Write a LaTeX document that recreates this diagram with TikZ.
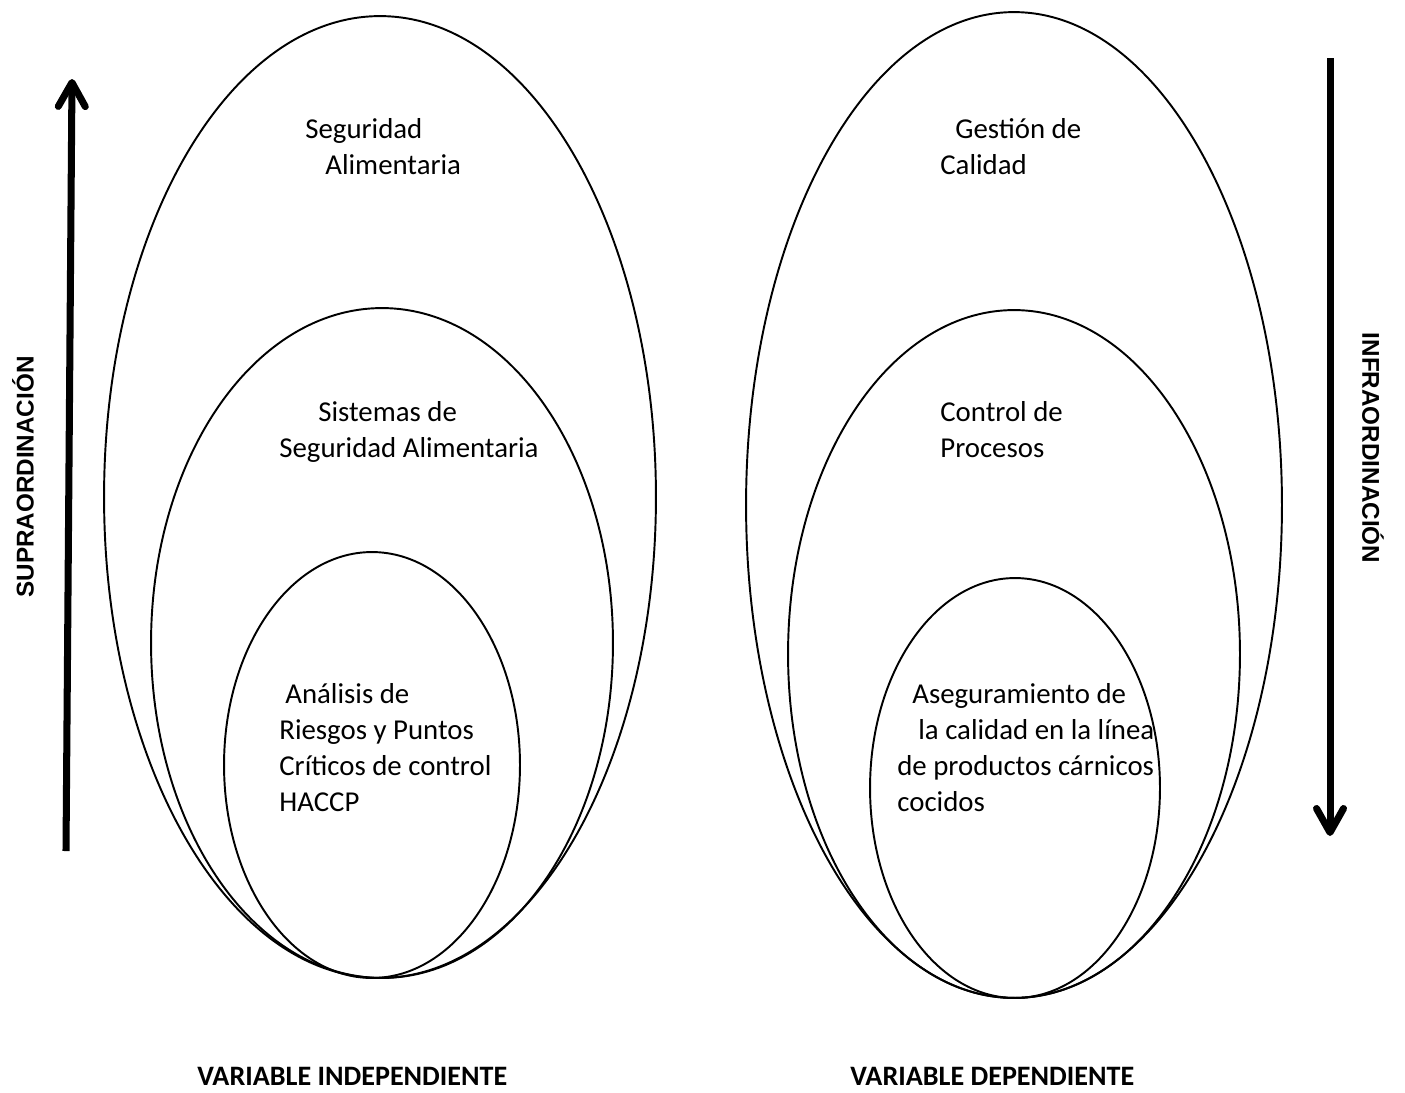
\documentclass[tikz,border=0pt]{standalone}
\usepackage{fontspec}
\setmainfont{Carlito}
\newfontfamily\labelfont{Liberation Sans}
\usetikzlibrary{arrows.meta,positioning}

\begin{document}
\begin{tikzpicture}[x=0.02cm, y=-0.02cm]
	\tikzset{every node/.style = {inner sep=0pt, font=\fontsize{16.4}{19}\selectfont},
		txt/.style = {anchor=base west},
		ring/.style = {line width=1.1pt},
		bigarrow/.style = {line width=4pt, -{Straight Barb[length=0.48cm, width=0.54cm, round]}},
		sidelabel/.style = {font=\labelfont\bfseries\fontsize{13.8}{16}\selectfont},
		varlabel/.style = {anchor=base west, font=\bfseries\fontsize{16}{19}\selectfont}}
\useasboundingbox (0,0) rectangle (1405,1092);

% variable independiente
\draw[ring] (380,497) ellipse [x radius=5.52cm, y radius=9.62cm];
\draw[ring] (382,643) ellipse [x radius=4.62cm, y radius=6.70cm];
\draw[ring] (372,765) ellipse [x radius=2.96cm, y radius=4.26cm];

% variable dependiente
\draw[ring] (1014,505) ellipse [x radius=5.36cm, y radius=9.86cm];
\draw[ring] (1014,654) ellipse [x radius=4.52cm, y radius=6.88cm];
\draw[ring] (1015,788) ellipse [x radius=2.90cm, y radius=4.20cm];

\node[txt] (sa1) at (305,138) {Seguridad};
\node[txt] (sa2) at (325,174) {Alimentaria};
\node[txt] (ss1) at (318,421) {Sistemas de};
\node[txt] (ss2) at (279,457) {Seguridad Alimentaria};
\node[txt] (ha1) at (285,703) {Análisis de};
\node[txt] (ha2) at (279,739) {Riesgos y Puntos};
\node[txt] (ha3) at (279,775) {Críticos de control};
\node[txt] (ha4) at (279,811) {HACCP};

\node[txt] (gc1) at (955,138) {Gestión de};
\node[txt] (gc2) at (940,174) {Calidad};
\node[txt] (cp1) at (940,421) {Control de};
\node[txt] (cp2) at (940,457) {Procesos};
\node[txt] (ac1) at (912,703) {Aseguramiento de};
\node[txt] (ac2) at (918,739) {la calidad en la línea};
\node[txt] (ac3) at (897,775) {de productos cárnicos};
\node[txt] (ac4) at (897,811) {cocidos};

\node[varlabel] (vi) at (197,1085) {VARIABLE INDEPENDIENTE};
\node[varlabel] (vd) at (850,1085) {VARIABLE DEPENDIENTE};

% flechas
\coordinate (supB) at (66,851);
\coordinate (supT) at (72,79);
\coordinate (infT) at (1330,58);
\coordinate (infB) at (1330,836);
\draw[bigarrow] (supB) -- (supT);
\draw[bigarrow] (infT) -- (infB);

\node[sidelabel, rotate=90] (supra) at (23,477) {SUPRAORDINACIÓN};
\node[sidelabel, rotate=-90] (infra) at (1373,448) {INFRAORDINACIÓN};
\end{tikzpicture}
\end{document}
